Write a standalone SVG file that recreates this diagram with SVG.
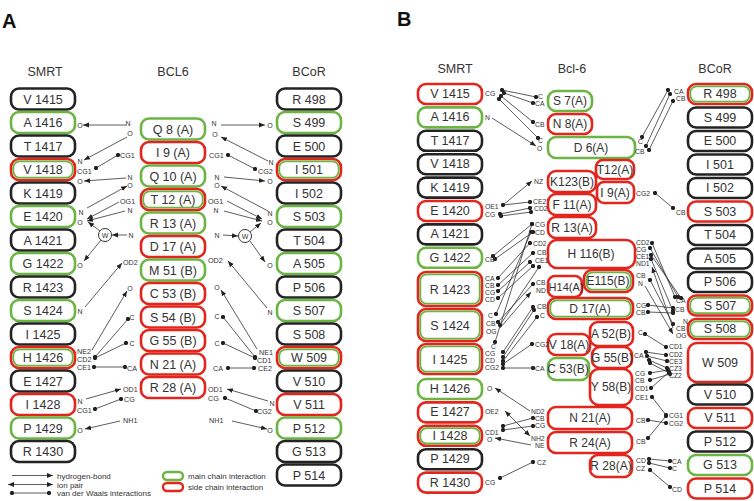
<svg xmlns="http://www.w3.org/2000/svg" width="754" height="501" viewBox="0 0 754 501">
<defs>
<marker id="ar" viewBox="0 0 10 10" refX="10" refY="5" markerUnits="userSpaceOnUse" markerWidth="6" markerHeight="6" orient="auto-start-reverse"><path d="M0,1 L10,5 L0,9 z" fill="#222"/></marker>
<marker id="dt" viewBox="0 0 10 10" refX="5" refY="5" markerUnits="userSpaceOnUse" markerWidth="4.2" markerHeight="4.2"><circle cx="5" cy="5" r="5" fill="#222"/></marker>
</defs>
<style>
text{font-family:"Liberation Sans",Arial,sans-serif;fill:#333}
.hd{font-size:12.5px;text-anchor:middle}
.pl{font-size:20px;font-weight:bold;fill:#111}
.bt{font-size:12.5px;text-anchor:middle}
.bs{font-size:12px;text-anchor:middle}
.at{font-size:7.2px}
.bl .at{font-size:6.8px}
.ac{font-size:7px;text-anchor:middle}
rect{fill:#fff;stroke-width:2.6}
.k{stroke:#232323}
.g{stroke:#6cb544}
.r{stroke:#e3261d}
.gi{stroke:#6cb544;stroke-width:1.8;fill:none}
line{stroke:#333;stroke-width:0.8}
.h{marker-end:url(#ar)}
.v{marker-start:url(#dt);marker-end:url(#dt)}
.i{marker-start:url(#ar);marker-end:url(#ar)}
.w{fill:#fff;stroke:#333;stroke-width:1}
.lg{font-size:8px}
</style>
<rect width="754" height="501" style="fill:#fff;stroke:none"/>
<text class="pl" x="2" y="28">A</text>
<text class="pl" x="397" y="26">B</text>
<text class="hd" x="45" y="76">SMRT</text>
<text class="hd" x="173" y="76">BCL6</text>
<text class="hd" x="309" y="76">BCoR</text>
<text class="hd" x="455" y="73">SMRT</text>
<text class="hd" x="572" y="73">Bcl-6</text>
<text class="hd" x="715" y="73">BCoR</text>

<g id="A-SMRT">
<g id="a-smrt-1415"><rect class="k" x="11" y="88.5" width="64" height="21" rx="8"/><text class="bt" x="43" y="103.5">V 1415</text></g>
<g id="a-smrt-1416"><rect class="g" x="11" y="112" width="64" height="21" rx="8"/><text class="bt" x="43" y="127">A 1416</text></g>
<g id="a-smrt-1417"><rect class="k" x="11" y="135.5" width="64" height="21" rx="8"/><text class="bt" x="43" y="150.5">T 1417</text></g>
<g id="a-smrt-1418"><rect class="r" x="11" y="159" width="64" height="21" rx="8"/><rect class="gi" x="13.3" y="161.3" width="59.4" height="16.4" rx="6.5"/><text class="bt" x="43" y="174">V 1418</text></g>
<g id="a-smrt-1419"><rect class="k" x="11" y="182.5" width="64" height="21" rx="8"/><text class="bt" x="43" y="197.5">K 1419</text></g>
<g id="a-smrt-1420"><rect class="g" x="11" y="206" width="64" height="21" rx="8"/><text class="bt" x="43" y="221">E 1420</text></g>
<g id="a-smrt-1421"><rect class="k" x="11" y="229.5" width="64" height="21" rx="8"/><text class="bt" x="43" y="244.5">A 1421</text></g>
<g id="a-smrt-1422"><rect class="g" x="11" y="253" width="64" height="21" rx="8"/><text class="bt" x="43" y="268">G 1422</text></g>
<g id="a-smrt-1423"><rect class="k" x="11" y="276.5" width="64" height="21" rx="8"/><text class="bt" x="43" y="291.5">R 1423</text></g>
<g id="a-smrt-1424"><rect class="g" x="11" y="300" width="64" height="21" rx="8"/><text class="bt" x="43" y="315">S 1424</text></g>
<g id="a-smrt-1425"><rect class="k" x="11" y="323.5" width="64" height="21" rx="8"/><text class="bt" x="43" y="338.5">I 1425</text></g>
<g id="a-smrt-1426"><rect class="r" x="11" y="347" width="64" height="21" rx="8"/><rect class="gi" x="13.3" y="349.3" width="59.4" height="16.4" rx="6.5"/><text class="bt" x="43" y="362">H 1426</text></g>
<g id="a-smrt-1427"><rect class="k" x="11" y="370.5" width="64" height="21" rx="8"/><text class="bt" x="43" y="385.5">E 1427</text></g>
<g id="a-smrt-1428"><rect class="r" x="11" y="394" width="64" height="21" rx="8"/><text class="bt" x="43" y="409">I 1428</text></g>
<g id="a-smrt-1429"><rect class="g" x="11" y="417.5" width="64" height="21" rx="8"/><text class="bt" x="43" y="432.5">P 1429</text></g>
<g id="a-smrt-1430"><rect class="k" x="11" y="441" width="64" height="21" rx="8"/><text class="bt" x="43" y="456">R 1430</text></g>
</g>

<g id="A-BCL6">
<g id="a-bcl6-q8"><rect class="g" x="141" y="118.5" width="64" height="21" rx="8"/><text class="bt" x="173" y="133.5">Q  8 (A)</text></g>
<g id="a-bcl6-i9"><rect class="r" x="141" y="142" width="64" height="21" rx="8"/><text class="bt" x="173" y="157">I  9 (A)</text></g>
<g id="a-bcl6-q10"><rect class="g" x="141" y="165.5" width="64" height="21" rx="8"/><text class="bt" x="173" y="180.5">Q 10 (A)</text></g>
<g id="a-bcl6-t12"><rect class="r" x="141" y="189" width="64" height="21" rx="8"/><rect class="gi" x="143.3" y="191.3" width="59.4" height="16.4" rx="6.5"/><text class="bt" x="173" y="204">T 12 (A)</text></g>
<g id="a-bcl6-r13"><rect class="g" x="141" y="212.5" width="64" height="21" rx="8"/><text class="bt" x="173" y="227.5">R 13 (A)</text></g>
<g id="a-bcl6-d17"><rect class="r" x="141" y="236" width="64" height="21" rx="8"/><text class="bt" x="173" y="251">D 17 (A)</text></g>
<g id="a-bcl6-m51"><rect class="g" x="141" y="259.5" width="64" height="21" rx="8"/><text class="bt" x="173" y="274.5">M 51 (B)</text></g>
<g id="a-bcl6-c53"><rect class="r" x="141" y="283" width="64" height="21" rx="8"/><text class="bt" x="173" y="298">C 53 (B)</text></g>
<g id="a-bcl6-s54"><rect class="r" x="141" y="306.5" width="64" height="21" rx="8"/><text class="bt" x="173" y="321.5">S 54 (B)</text></g>
<g id="a-bcl6-g55"><rect class="r" x="141" y="330" width="64" height="21" rx="8"/><text class="bt" x="173" y="345">G 55 (B)</text></g>
<g id="a-bcl6-n21"><rect class="r" x="141" y="353.5" width="64" height="21" rx="8"/><text class="bt" x="173" y="368.5">N 21 (A)</text></g>
<g id="a-bcl6-r28"><rect class="r" x="141" y="377" width="64" height="21" rx="8"/><text class="bt" x="173" y="392">R 28 (A)</text></g>
</g>

<g id="A-BCoR">
<g id="a-bcor-498"><rect class="k" x="277" y="88.5" width="64" height="21" rx="8"/><text class="bt" x="309" y="103.5">R 498</text></g>
<g id="a-bcor-499"><rect class="g" x="277" y="112" width="64" height="21" rx="8"/><text class="bt" x="309" y="127">S 499</text></g>
<g id="a-bcor-500"><rect class="k" x="277" y="135.5" width="64" height="21" rx="8"/><text class="bt" x="309" y="150.5">E 500</text></g>
<g id="a-bcor-501"><rect class="r" x="277" y="159" width="64" height="21" rx="8"/><rect class="gi" x="279.3" y="161.3" width="59.4" height="16.4" rx="6.5"/><text class="bt" x="309" y="174">I 501</text></g>
<g id="a-bcor-502"><rect class="k" x="277" y="182.5" width="64" height="21" rx="8"/><text class="bt" x="309" y="197.5">I 502</text></g>
<g id="a-bcor-503"><rect class="g" x="277" y="206" width="64" height="21" rx="8"/><text class="bt" x="309" y="221">S 503</text></g>
<g id="a-bcor-504"><rect class="k" x="277" y="229.5" width="64" height="21" rx="8"/><text class="bt" x="309" y="244.5">T 504</text></g>
<g id="a-bcor-505"><rect class="g" x="277" y="253" width="64" height="21" rx="8"/><text class="bt" x="309" y="268">A 505</text></g>
<g id="a-bcor-506"><rect class="k" x="277" y="276.5" width="64" height="21" rx="8"/><text class="bt" x="309" y="291.5">P 506</text></g>
<g id="a-bcor-507"><rect class="g" x="277" y="300" width="64" height="21" rx="8"/><text class="bt" x="309" y="315">S 507</text></g>
<g id="a-bcor-508"><rect class="k" x="277" y="323.5" width="64" height="21" rx="8"/><text class="bt" x="309" y="338.5">S 508</text></g>
<g id="a-bcor-509"><rect class="r" x="277" y="347" width="64" height="21" rx="8"/><rect class="gi" x="279.3" y="349.3" width="59.4" height="16.4" rx="6.5"/><text class="bt" x="309" y="362">W 509</text></g>
<g id="a-bcor-510"><rect class="k" x="277" y="370.5" width="64" height="21" rx="8"/><text class="bt" x="309" y="385.5">V 510</text></g>
<g id="a-bcor-511"><rect class="r" x="277" y="394" width="64" height="21" rx="8"/><text class="bt" x="309" y="409">V 511</text></g>
<g id="a-bcor-512"><rect class="g" x="277" y="417.5" width="64" height="21" rx="8"/><text class="bt" x="309" y="432.5">P 512</text></g>
<g id="a-bcor-513"><rect class="k" x="277" y="441" width="64" height="21" rx="8"/><text class="bt" x="309" y="456">G 513</text></g>
<g id="a-bcor-514"><rect class="k" x="277" y="464.5" width="64" height="21" rx="8"/><text class="bt" x="309" y="479.5">P 514</text></g>
</g>

<g id="B-SMRT">
<g id="b-smrt-1415"><rect class="r" x="418" y="84" width="64" height="20" rx="8"/><text class="bt" x="450" y="98">V 1415</text></g>
<g id="b-smrt-1416"><rect class="g" x="418" y="107.4" width="64" height="20" rx="8"/><text class="bt" x="450" y="121.4">A 1416</text></g>
<g id="b-smrt-1417"><rect class="k" x="418" y="130.8" width="64" height="20" rx="8"/><text class="bt" x="450" y="144.8">T 1417</text></g>
<g id="b-smrt-1418"><rect class="k" x="418" y="154.2" width="64" height="20" rx="8"/><text class="bt" x="450" y="168.2">V 1418</text></g>
<g id="b-smrt-1419"><rect class="k" x="418" y="177.6" width="64" height="20" rx="8"/><text class="bt" x="450" y="191.6">K 1419</text></g>
<g id="b-smrt-1420"><rect class="r" x="418" y="201" width="64" height="20" rx="8"/><text class="bt" x="450" y="215">E 1420</text></g>
<g id="b-smrt-1421"><rect class="k" x="418" y="224.4" width="64" height="20" rx="8"/><text class="bt" x="450" y="238.4">A 1421</text></g>
<g id="b-smrt-1422"><rect class="g" x="418" y="247.8" width="64" height="20" rx="8"/><text class="bt" x="450" y="261.8">G 1422</text></g>
<g id="b-smrt-1423"><rect class="r" x="418" y="272" width="64" height="34" rx="8"/><rect class="gi" x="420.3" y="274.3" width="59.4" height="29.4" rx="6.5"/><text class="bt" x="450" y="293.5">R 1423</text></g>
<g id="b-smrt-1424"><rect class="r" x="418" y="309" width="64" height="32" rx="8"/><rect class="gi" x="420.3" y="311.3" width="59.4" height="27.4" rx="6.5"/><text class="bt" x="450" y="329.5">S 1424</text></g>
<g id="b-smrt-1425"><rect class="r" x="418" y="344" width="64" height="30" rx="8"/><rect class="gi" x="420.3" y="346.3" width="59.4" height="25.4" rx="6.5"/><text class="bt" x="450" y="363.5">I 1425</text></g>
<g id="b-smrt-1426"><rect class="g" x="418" y="379" width="64" height="20" rx="8"/><text class="bt" x="450" y="393">H 1426</text></g>
<g id="b-smrt-1427"><rect class="r" x="418" y="402.4" width="64" height="20" rx="8"/><text class="bt" x="450" y="416.4">E 1427</text></g>
<g id="b-smrt-1428"><rect class="r" x="418" y="425.8" width="64" height="20" rx="8"/><rect class="gi" x="420.3" y="428.1" width="59.4" height="15.4" rx="6.5"/><text class="bt" x="450" y="439.8">I 1428</text></g>
<g id="b-smrt-1429"><rect class="k" x="418" y="449.2" width="64" height="20" rx="8"/><text class="bt" x="450" y="463.2">P 1429</text></g>
<g id="b-smrt-1430"><rect class="r" x="418" y="472.6" width="64" height="20" rx="8"/><text class="bt" x="450" y="486.6">R 1430</text></g>
</g>

<g id="B-Bcl6">
<g id="b-s7"><rect class="g" x="548" y="91" width="44" height="20" rx="8"/><text class="bs" x="570" y="105">S 7(A)</text></g>
<g id="b-n8"><rect class="r" x="548" y="114" width="44" height="20" rx="8"/><text class="bs" x="570" y="128">N 8(A)</text></g>
<g id="b-d6"><rect class="g" x="548" y="137" width="87" height="21" rx="8"/><text class="bs" x="591" y="152">D 6(A)</text></g>
<g id="b-t12"><rect class="r" x="596" y="160" width="38" height="19" rx="7"/><text class="bs" x="615" y="173.5">T12(A)</text></g>
<g id="b-k123"><rect class="r" x="548" y="171" width="48" height="21" rx="8"/><text class="bs" x="572" y="185.5">K123(B)</text></g>
<g id="b-i9"><rect class="r" x="597" y="182" width="37" height="21" rx="7"/><text class="bs" x="615" y="196.5">I 9(A)</text></g>
<g id="b-f11"><rect class="r" x="548" y="194" width="48" height="21" rx="8"/><text class="bs" x="572" y="208.5">F 11(A)</text></g>
<g id="b-r13"><rect class="r" x="548" y="217" width="48" height="21" rx="8"/><text class="bs" x="572" y="231.5">R 13(A)</text></g>
<g id="b-h116"><rect class="r" x="548" y="240" width="87" height="28" rx="9"/><text class="bs" x="591" y="258">H 116(B)</text></g>
<g id="b-e115"><rect class="r" x="584" y="270" width="49" height="22" rx="8"/><rect class="gi" x="586.3" y="272.3" width="44.4" height="17.4" rx="6.5"/><text class="bs" x="608" y="285">E115(B)</text></g>
<g id="b-h14"><rect class="r" x="548" y="276" width="34" height="21" rx="7"/><text class="bs" x="566" y="290.5" style="font-size:11px">H14(A)</text></g>
<g id="b-d17"><rect class="r" x="548" y="298" width="85" height="21" rx="8"/><rect class="gi" x="550.3" y="300.3" width="80.4" height="16.4" rx="6.5"/><text class="bs" x="590" y="312.5">D 17(A)</text></g>
<g id="b-a52"><rect class="r" x="590" y="322" width="43" height="24" rx="8"/><text class="bs" x="611" y="338">A 52(B)</text></g>
<g id="b-v18"><rect class="r" x="548" y="334" width="42" height="21" rx="8"/><text class="bs" x="569" y="348.5">V 18(A)</text></g>
<g id="b-g55"><rect class="r" x="592" y="347" width="40" height="21" rx="8"/><text class="bs" x="612" y="361.5">G 55(B)</text></g>
<g id="b-c53"><rect class="g" x="548" y="358" width="41" height="22" rx="8"/><text class="bs" x="568" y="373">C 53(B)</text></g>
<g id="b-y58"><rect class="r" x="590" y="369" width="42" height="36" rx="9"/><text class="bs" x="611" y="391">Y 58(B)</text></g>
<g id="b-n21"><rect class="r" x="548" y="407" width="84" height="22" rx="8"/><text class="bs" x="590" y="422">N 21(A)</text></g>
<g id="b-r24"><rect class="r" x="548" y="432" width="84" height="21" rx="8"/><text class="bs" x="590" y="446.5">R 24(A)</text></g>
<g id="b-r28"><rect class="r" x="590" y="455" width="42" height="22" rx="8"/><text class="bs" x="611" y="470">R 28(A)</text></g>
</g>

<g id="B-BCoR">
<g id="b-bcor-498"><rect class="r" x="688" y="84" width="64" height="20" rx="8"/><rect class="gi" x="690.3" y="86.3" width="59.4" height="15.4" rx="6.5"/><text class="bt" x="720" y="98">R 498</text></g>
<g id="b-bcor-499"><rect class="k" x="688" y="107.5" width="64" height="20" rx="8"/><text class="bt" x="720" y="121.5">S 499</text></g>
<g id="b-bcor-500"><rect class="k" x="688" y="131" width="64" height="20" rx="8"/><text class="bt" x="720" y="145">E 500</text></g>
<g id="b-bcor-501"><rect class="k" x="688" y="154.5" width="64" height="20" rx="8"/><text class="bt" x="720" y="168.5">I  501</text></g>
<g id="b-bcor-502"><rect class="k" x="688" y="178" width="64" height="20" rx="8"/><text class="bt" x="720" y="192">I  502</text></g>
<g id="b-bcor-503"><rect class="r" x="688" y="201.5" width="64" height="20" rx="8"/><text class="bt" x="720" y="215.5">S 503</text></g>
<g id="b-bcor-504"><rect class="k" x="688" y="225" width="64" height="20" rx="8"/><text class="bt" x="720" y="239">T 504</text></g>
<g id="b-bcor-505"><rect class="k" x="688" y="248.5" width="64" height="20" rx="8"/><text class="bt" x="720" y="262.5">A 505</text></g>
<g id="b-bcor-506"><rect class="k" x="688" y="272" width="64" height="20" rx="8"/><text class="bt" x="720" y="286">P 506</text></g>
<g id="b-bcor-507"><rect class="r" x="688" y="295.5" width="64" height="20" rx="8"/><rect class="gi" x="690.3" y="297.8" width="59.4" height="15.4" rx="6.5"/><text class="bt" x="720" y="309.5">S 507</text></g>
<g id="b-bcor-508"><rect class="r" x="688" y="319" width="64" height="20" rx="8"/><rect class="gi" x="690.3" y="321.3" width="59.4" height="15.4" rx="6.5"/><text class="bt" x="720" y="333">S 508</text></g>
<g id="b-bcor-509"><rect class="r" x="688" y="343" width="64" height="39" rx="9"/><text class="bt" x="720" y="367">W 509</text></g>
<g id="b-bcor-510"><rect class="k" x="688" y="384.5" width="64" height="20" rx="8"/><text class="bt" x="720" y="398.5">V 510</text></g>
<g id="b-bcor-511"><rect class="r" x="688" y="408" width="64" height="20" rx="8"/><text class="bt" x="720" y="422">V 511</text></g>
<g id="b-bcor-512"><rect class="k" x="688" y="431.5" width="64" height="20" rx="8"/><text class="bt" x="720" y="445.5">P 512</text></g>
<g id="b-bcor-513"><rect class="g" x="688" y="455" width="64" height="20" rx="8"/><text class="bt" x="720" y="469">G 513</text></g>
<g id="b-bcor-514"><rect class="r" x="688" y="478.5" width="64" height="20" rx="8"/><text class="bt" x="720" y="492.5">P 514</text></g>
</g>

<g id="connectors">
<line class="h" x1="126" y1="125" x2="83" y2="125"/>
<line class="h" x1="127" y1="137" x2="84" y2="160"/>
<line class="v" x1="118" y1="155" x2="96" y2="168"/>
<line class="h" x1="126" y1="178" x2="84" y2="181"/>
<line class="h" x1="87" y1="208" x2="127" y2="186"/>
<line class="h" x1="119" y1="202" x2="87" y2="219"/>
<line class="h" x1="125" y1="211" x2="87" y2="221"/>
<line class="h" x1="100" y1="231" x2="88" y2="222"/>
<line class="h" x1="127" y1="235" x2="112" y2="235"/>
<line class="h" x1="101" y1="240" x2="84" y2="261"/>
<line class="h" x1="85" y1="307" x2="122" y2="263"/>
<line class="h" x1="92" y1="350" x2="127" y2="291"/>
<line class="v" x1="95" y1="357" x2="128" y2="319"/>
<line class="v" x1="95" y1="358" x2="126" y2="343"/>
<line class="v" x1="94" y1="367" x2="125" y2="367"/>
<line class="h" x1="86" y1="399" x2="121" y2="389"/>
<line class="v" x1="95" y1="409" x2="121" y2="399"/>
<line class="h" x1="120" y1="421" x2="85" y2="429"/>
<line class="h" x1="221" y1="125" x2="265" y2="125"/>
<line class="h" x1="268" y1="161" x2="221" y2="137"/>
<line class="v" x1="228" y1="155" x2="255" y2="169"/>
<line class="h" x1="224" y1="177" x2="265" y2="181"/>
<line class="h" x1="268" y1="211" x2="221" y2="186"/>
<line class="h" x1="227" y1="201" x2="262" y2="219"/>
<line class="h" x1="224" y1="211" x2="262" y2="221"/>
<line class="h" x1="250" y1="232" x2="261" y2="223"/>
<line class="h" x1="223" y1="235" x2="238" y2="236"/>
<line class="h" x1="250" y1="241" x2="265" y2="262"/>
<line class="h" x1="267" y1="308" x2="228" y2="261"/>
<line class="h" x1="257" y1="349" x2="221" y2="290"/>
<line class="v" x1="223" y1="317" x2="255" y2="357"/>
<line class="v" x1="223" y1="343" x2="255" y2="358"/>
<line class="v" x1="228" y1="368" x2="254" y2="368"/>
<line class="h" x1="268" y1="401" x2="227" y2="389"/>
<line class="v" x1="225" y1="398" x2="256" y2="411"/>
<line class="h" x1="232" y1="421" x2="267" y2="429"/>
<line class="v" x1="502" y1="90" x2="536" y2="97"/>
<line class="v" x1="504" y1="93" x2="533" y2="103"/>
<line class="v" x1="501" y1="96" x2="533" y2="122"/>
<line class="v" x1="499" y1="99" x2="538" y2="138"/>
<line class="h" x1="492" y1="118" x2="536" y2="146"/>
<line class="h" x1="503" y1="205" x2="532" y2="181"/>
<line class="v" x1="503" y1="205" x2="530" y2="202"/>
<line class="v" x1="500" y1="214" x2="530" y2="208"/>
<line class="v" x1="501" y1="216" x2="531" y2="212"/>
<line class="v" x1="493" y1="256" x2="532" y2="224"/>
<line class="v" x1="495" y1="259" x2="533" y2="232"/>
<line class="v" x1="498" y1="278" x2="530" y2="243"/>
<line class="v" x1="498" y1="285" x2="533" y2="253"/>
<line class="v" x1="498" y1="291" x2="530" y2="262"/>
<line class="v" x1="498" y1="298" x2="533" y2="266"/>
<line class="v" x1="496" y1="314" x2="531" y2="232"/>
<line class="v" x1="498" y1="322" x2="533" y2="284"/>
<line class="v" x1="500" y1="325" x2="539" y2="267"/>
<line class="h" x1="500" y1="328" x2="531" y2="292"/>
<line class="v" x1="495" y1="342" x2="532" y2="224"/>
<line class="v" x1="503" y1="352" x2="533" y2="307"/>
<line class="v" x1="503" y1="357" x2="534" y2="310"/>
<line class="v" x1="503" y1="361" x2="537" y2="317"/>
<line class="v" x1="503" y1="364" x2="532" y2="344"/>
<line class="v" x1="503" y1="368" x2="533" y2="368"/>
<line class="h" x1="530" y1="411" x2="495" y2="388"/>
<line class="i" x1="505" y1="411" x2="530" y2="436"/>
<line class="v" x1="503" y1="426" x2="533" y2="418"/>
<line class="v" x1="503" y1="430" x2="533" y2="426"/>
<line class="h" x1="531" y1="445" x2="495" y2="438"/>
<line class="v" x1="500" y1="478" x2="533" y2="462"/>
<line class="v" x1="642" y1="137" x2="668" y2="90"/>
<line class="v" x1="646" y1="146" x2="670" y2="94"/>
<line class="v" x1="649" y1="150" x2="673" y2="101"/>
<line class="v" x1="655" y1="193" x2="673" y2="208"/>
<line class="v" x1="652" y1="243" x2="675" y2="297"/>
<line class="v" x1="650" y1="248" x2="678" y2="297"/>
<line class="v" x1="651" y1="255" x2="681" y2="298"/>
<line class="v" x1="651" y1="259" x2="673" y2="311"/>
<line class="h" x1="673" y1="328" x2="652" y2="267"/>
<line class="v" x1="650" y1="280" x2="673" y2="324"/>
<line class="h" x1="645" y1="286" x2="673" y2="334"/>
<line class="v" x1="648" y1="305" x2="673" y2="308"/>
<line class="v" x1="648" y1="312" x2="673" y2="313"/>
<line class="v" x1="645" y1="334" x2="666" y2="347"/>
<line class="v" x1="646" y1="352" x2="666" y2="355"/>
<line class="v" x1="647" y1="356" x2="667" y2="361"/>
<line class="v" x1="649" y1="360" x2="667" y2="368"/>
<line class="v" x1="650" y1="363" x2="669" y2="373"/>
<line class="v" x1="650" y1="373" x2="668" y2="370"/>
<line class="v" x1="650" y1="380" x2="670" y2="374"/>
<line class="v" x1="651" y1="388" x2="669" y2="372"/>
<line class="v" x1="652" y1="397" x2="666" y2="415"/>
<line class="v" x1="648" y1="420" x2="666" y2="423"/>
<line class="v" x1="648" y1="438" x2="666" y2="416"/>
<line class="v" x1="649" y1="459" x2="670" y2="461"/>
<line class="v" x1="649" y1="463" x2="670" y2="468"/>
<line class="v" x1="650" y1="470" x2="670" y2="487"/>
</g>

<g id="waters">
<g id="w-left"><circle class="w" cx="105" cy="235" r="6.5"/><text class="ac" x="105" y="237.5">W</text></g>
<g id="w-right"><circle class="w" cx="245" cy="236" r="6.5"/><text class="ac" x="245" y="238.5">W</text></g>
</g>

<g id="atom-labels-a">
<text class="ac" x="80" y="128">O</text>
<text class="ac" x="128" y="126">N</text>
<text class="ac" x="130" y="136">O</text>
<text class="ac" x="80" y="164">N</text>
<text class="at" x="120" y="158">CG1</text>
<text class="at" x="77" y="174">CG1</text>
<text class="ac" x="80" y="184">O</text>
<text class="ac" x="130" y="179.5">N</text>
<text class="ac" x="130" y="188">O</text>
<text class="at" x="120" y="204">OG1</text>
<text class="ac" x="130" y="213">N</text>
<text class="ac" x="81" y="215">N</text>
<text class="ac" x="80" y="225">O</text>
<text class="ac" x="131" y="238">N</text>
<text class="ac" x="80" y="268">O</text>
<text class="at" x="123" y="265">OD2</text>
<text class="ac" x="80" y="314">N</text>
<text class="ac" x="130" y="291">O</text>
<text class="ac" x="132" y="320">C</text>
<text class="ac" x="132" y="346">C</text>
<text class="at" x="77" y="354">NE2</text>
<text class="at" x="77" y="362">CD2</text>
<text class="at" x="77" y="370">CE1</text>
<text class="at" x="127" y="371">CA</text>
<text class="at" x="123" y="392">OD1</text>
<text class="at" x="124" y="402">CG</text>
<text class="ac" x="80" y="404">N</text>
<text class="at" x="77" y="413">CG1</text>
<text class="at" x="123" y="423">NH1</text>
<text class="ac" x="80" y="433">O</text>
<text class="ac" x="214" y="126">N</text>
<text class="ac" x="215" y="137">O</text>
<text class="ac" x="270" y="128">O</text>
<text class="ac" x="271" y="165">N</text>
<text class="at" x="209" y="158">CG1</text>
<text class="at" x="258" y="173.5">CG2</text>
<text class="ac" x="217" y="179.5">N</text>
<text class="ac" x="217" y="188">O</text>
<text class="ac" x="270" y="184">O</text>
<text class="ac" x="270" y="216">N</text>
<text class="at" x="208" y="204">OG1</text>
<text class="ac" x="216" y="213">N</text>
<text class="ac" x="270" y="225">O</text>
<text class="ac" x="217" y="238">N</text>
<text class="ac" x="270" y="268">O</text>
<text class="at" x="208" y="263">OD2</text>
<text class="ac" x="270" y="315">N</text>
<text class="ac" x="217" y="290">O</text>
<text class="ac" x="217" y="319">C</text>
<text class="ac" x="217" y="346">C</text>
<text class="at" x="259" y="355">NE1</text>
<text class="at" x="257" y="363">CD1</text>
<text class="at" x="258" y="371">CE2</text>
<text class="at" x="213" y="371">CA</text>
<text class="at" x="208" y="392">OD1</text>
<text class="at" x="208" y="401">CG</text>
<text class="ac" x="272" y="406">N</text>
<text class="at" x="257" y="414">CG2</text>
<text class="at" x="209" y="423">NH1</text>
<text class="ac" x="270" y="433">O</text>
</g>

<g id="atom-labels-b" class="bl">
<text class="at" x="485" y="96">CG</text>
<text class="at" x="485" y="120">N</text>
<text class="at" x="538" y="99">C</text>
<text class="at" x="535" y="106">CA</text>
<text class="at" x="535" y="127">CB</text>
<text class="at" x="538" y="143">C</text>
<text class="at" x="537" y="151">O</text>
<text class="at" x="534" y="184">NZ</text>
<text class="at" x="533" y="204">CE2</text>
<text class="at" x="534" y="211">CD2</text>
<text class="at" x="485" y="209">OE1</text>
<text class="at" x="485" y="217">CG</text>
<text class="at" x="535" y="227">CG</text>
<text class="at" x="535" y="235">CD</text>
<text class="at" x="485" y="262">CB</text>
<text class="at" x="533" y="246">CD2</text>
<text class="at" x="537" y="255">CB</text>
<text class="at" x="535" y="263">CE1</text>
<text class="at" x="485" y="281">CA</text>
<text class="at" x="485" y="288">CB</text>
<text class="at" x="485" y="295">CG</text>
<text class="at" x="485" y="302">CD</text>
<text class="at" x="536" y="285">CB</text>
<text class="at" x="536" y="293">ND</text>
<text class="at" x="537" y="309">CB</text>
<text class="at" x="540" y="318">C</text>
<text class="at" x="488" y="318">C</text>
<text class="at" x="486" y="326">CB</text>
<text class="at" x="486" y="334">OG</text>
<text class="at" x="491" y="349">C</text>
<text class="at" x="535" y="347">CG2</text>
<text class="at" x="485" y="356">CG</text>
<text class="at" x="485" y="363">CD</text>
<text class="at" x="485" y="370">CG2</text>
<text class="at" x="535" y="371">CA</text>
<text class="at" x="487" y="391">O</text>
<text class="at" x="485" y="414">OE2</text>
<text class="at" x="531" y="414">ND2</text>
<text class="at" x="535" y="421">CB</text>
<text class="at" x="535" y="428">CG</text>
<text class="at" x="485" y="435">CD1</text>
<text class="at" x="487" y="442">O</text>
<text class="at" x="531" y="441">NH2</text>
<text class="at" x="535" y="448">NE</text>
<text class="at" x="485" y="485">CG</text>
<text class="at" x="537" y="465">CZ</text>
<text class="at" x="638" y="144">C</text>
<text class="at" x="635" y="154">CB</text>
<text class="at" x="674" y="94">CA</text>
<text class="at" x="676" y="101">CB</text>
<text class="at" x="636" y="196">CG2</text>
<text class="at" x="676" y="215">CB</text>
<text class="at" x="636" y="245">CD2</text>
<text class="at" x="636" y="252">CG</text>
<text class="at" x="636" y="259">CE1</text>
<text class="at" x="636" y="266">ND1</text>
<text class="at" x="636" y="278">CB</text>
<text class="at" x="638" y="286">N</text>
<text class="at" x="636" y="308">CG</text>
<text class="at" x="636" y="315">CB</text>
<text class="at" x="676" y="303">CA</text>
<text class="at" x="675" y="312">CB</text>
<text class="at" x="683" y="324">N</text>
<text class="at" x="676" y="331">CB</text>
<text class="at" x="676" y="338">OG</text>
<text class="at" x="638" y="335">C</text>
<text class="at" x="634" y="358">CA</text>
<text class="at" x="669" y="349">CD1</text>
<text class="at" x="669" y="357">CD2</text>
<text class="at" x="669" y="364">CE3</text>
<text class="at" x="669" y="371">CZ3</text>
<text class="at" x="669" y="378">CZ2</text>
<text class="at" x="635" y="376">CG</text>
<text class="at" x="635" y="383">CB</text>
<text class="at" x="635" y="391">CD1</text>
<text class="at" x="635" y="400">CE1</text>
<text class="at" x="669" y="418">CG1</text>
<text class="at" x="669" y="426">CG2</text>
<text class="at" x="636" y="423">CB</text>
<text class="at" x="636" y="444">CB</text>
<text class="at" x="636" y="463">CD</text>
<text class="at" x="636" y="471">CZ</text>
<text class="at" x="672" y="464">CA</text>
<text class="at" x="672" y="471">C</text>
<text class="at" x="672" y="492">CD</text>
</g>

<g id="legend">
<line class="h" x1="12" y1="475.5" x2="53" y2="475.5"/>
<line class="i" x1="8" y1="484.5" x2="53" y2="484.5"/>
<line class="v" x1="12" y1="493" x2="49" y2="493"/>
<text class="lg" x="57" y="478.5">hydrogen-bond</text>
<text class="lg" x="57" y="487.5">ion pair</text>
<text class="lg" x="57" y="496">van der Waals interactions</text>
<rect class="g" x="163" y="472" width="20" height="8" rx="4" style="stroke-width:2.4"/>
<rect class="r" x="163" y="483" width="20" height="8" rx="4" style="stroke-width:2.4"/>
<text class="lg" x="188" y="479">main chain interaction</text>
<text class="lg" x="188" y="490">side chain interaction</text>
</g>
</svg>
